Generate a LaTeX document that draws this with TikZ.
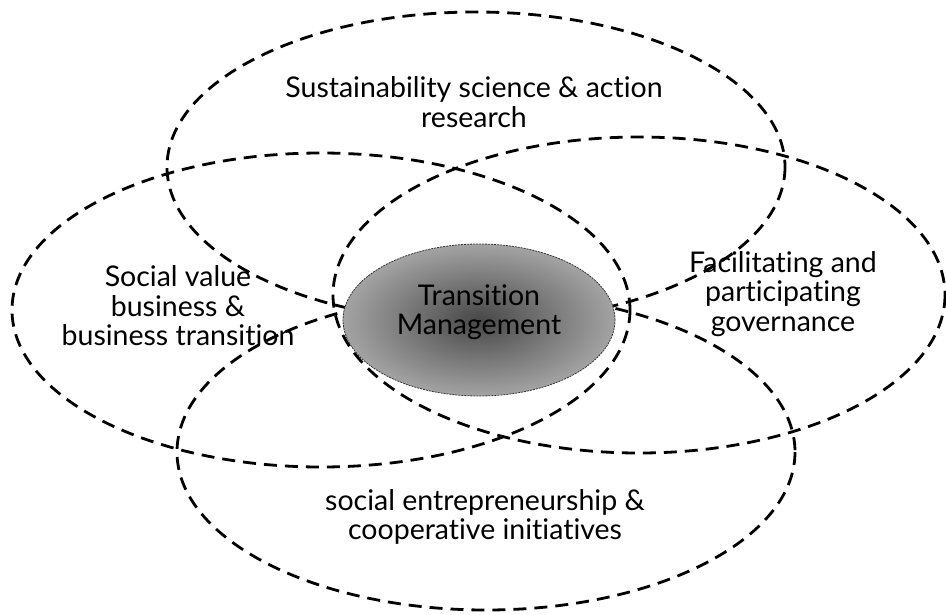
\documentclass[tikz,border=0pt]{standalone}
\usepackage{fontspec}
\setmainfont{Lato}[Ligatures=NoCommon]
\usetikzlibrary{shapes.geometric}
\begin{document}
\begin{tikzpicture}[x=1pt,y=-1pt,
  ring/.style={draw=black,line width=2.8pt,dash pattern=on 13pt off 8pt},
  lbl/.style={align=center,font=\fontsize{28.5}{29.5}\selectfont,text=black,inner sep=0pt},
  core/.style={ellipse,draw=black!80,line width=0.8pt,dash pattern=on 2pt off 1pt,
    inner color=black!72,outer color=black!36,minimum width=272pt,minimum height=152pt,inner sep=0pt}]
\useasboundingbox (0,0) rectangle (946,614);
\draw[ring] (476,167) ellipse [x radius=309, y radius=155];
\draw[ring] (321,310) ellipse [x radius=309, y radius=157];
\draw[ring] (639,295) ellipse [x radius=306, y radius=158];
\draw[ring] (486,452) ellipse [x radius=309, y radius=158];
\node[core] (tm) at (479,320) {};
\node[lbl] (tmt) at (479,312) {Transition\\Management};
\node[lbl] (sus) at (474,102) {Sustainability science \& action\\research};
\node[lbl] (soc) at (178,306) {Social value\\business \&\\business transition};
\node[lbl] (fac) at (783,294) {Facilitating and\\participating\\governance};
\node[lbl] (ent) at (485,517) {social entrepreneurship \&\\cooperative initiatives};
\end{tikzpicture}
\end{document}
